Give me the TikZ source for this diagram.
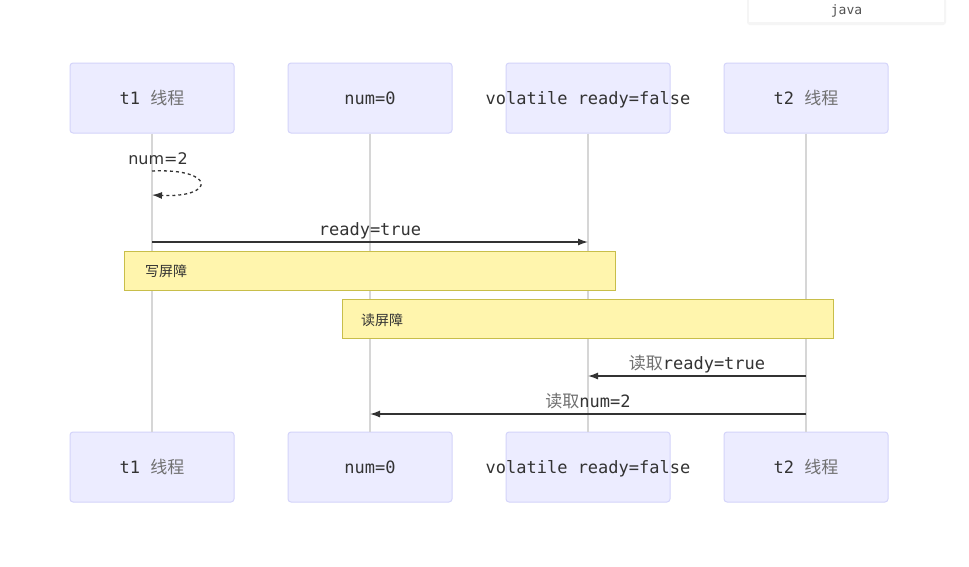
\documentclass[tikz,border=0pt]{standalone}
\usepackage{fontspec}
\setmainfont{DejaVu Sans}
\newfontfamily\monof{DejaVu Sans Mono}
\newfontfamily\cjk{Noto Sans CJK SC}
\usetikzlibrary{arrows.meta}
\definecolor{actfill}{HTML}{ECECFF}
\definecolor{actdraw}{HTML}{D4D4FA}
\definecolor{notefill}{HTML}{FFF5AD}
\definecolor{notedraw}{HTML}{C8BE4A}
\definecolor{lifec}{HTML}{D6D6D6}
\definecolor{txt}{HTML}{333333}
\definecolor{cjkc}{HTML}{707070}
\tikzset{
  actor/.style={draw=actdraw, fill=actfill, line width=1pt, rounded corners=3pt,
    minimum width=164pt, minimum height=70pt, inner sep=0pt},
  alabel/.style={font=\fontsize{17}{20}\selectfont\monof, text=txt, inner sep=0pt, anchor=base, yshift=-6pt},
  life/.style={draw=lifec, line width=1.2pt},
  msg/.style={draw=txt, line width=1.3pt, -{Latex[length=10pt,width=7pt]}},
  mlabel/.style={font=\fontsize{17}{20}\selectfont\monof, text=txt, inner sep=0pt, anchor=base},
  notebox/.style={draw=notedraw, fill=notefill, line width=1pt, minimum width=491pt, minimum height=39pt, inner sep=0pt},
  ntext/.style={font=\fontsize{14}{16}\selectfont\cjk, text=txt, anchor=west, inner sep=0pt},
}
\newcommand{\zh}[1]{{\cjk\color{cjkc}#1}}
\begin{document}
\begin{tikzpicture}[x=1pt,y=-1pt]
\useasboundingbox[fill=white] (0,0) rectangle (969,566);
% java tag
\fill[black!4, rounded corners=3pt] (747,-2) rectangle (946,25);
\node[fill=white, minimum width=195pt, minimum height=22pt, inner sep=0pt, font=\fontsize{13}{15}\selectfont\monof, text=txt!85] (java) at (846.5,10.5) {java};
% actors top
\node[actor] (t1) at (152,98) {};
\node[actor] (num) at (370,98) {};
\node[actor] (rdy) at (588,98) {};
\node[actor] (t2) at (806,98) {};
\node[alabel] (t1l) at (t1.center) {t1 \zh{线程}};
\node[alabel] (numl) at (num.center) {num=0};
\node[alabel] (rdyl) at (rdy.center) {volatile ready=false};
\node[alabel] (t2l) at (t2.center) {t2 \zh{线程}};
% actors bottom
\node[actor] (t1b) at (152,467) {};
\node[actor] (numb) at (370,467) {};
\node[actor] (rdyb) at (588,467) {};
\node[actor] (t2b) at (806,467) {};
\node[alabel] (t1bl) at (t1b.center) {t1 \zh{线程}};
\node[alabel] (numbl) at (numb.center) {num=0};
\node[alabel] (rdybl) at (rdyb.center) {volatile ready=false};
\node[alabel] (t2bl) at (t2b.center) {t2 \zh{线程}};
% lifelines
\draw[life] (t1.south) -- (t1b.north);
\draw[life] (num.south) -- (numb.north);
\draw[life] (rdy.south) -- (rdyb.north);
\draw[life] (t2.south) -- (t2b.north);
% self loop
\coordinate (s1) at (152,171);
\coordinate (s2) at (152,195);
\node[font=\fontsize{16}{18}\selectfont, text=txt, inner sep=0pt] (sl) at (158,159) {num=2};
\draw[draw=txt, line width=1.3pt, dash pattern=on 3pt off 3pt, -{Latex[length=10pt,width=7pt]}] (s1) .. controls (216,168) and (216,198) .. (s2);
% message ready=true
\coordinate (m1a) at (152,242);
\coordinate (m1b) at (588,242);
\draw[msg] (m1a) -- (m1b);
\node[mlabel] (l1) at (370,235) {ready=true};
% notes
\node[notebox] (n1) at (369.5,270.5) {};
\node[ntext] (n1t) at (145,271) {写屏障};
\node[notebox] (n2) at (587.5,318.5) {};
\node[ntext] (n2t) at (361,320) {读屏障};
% message 读取ready=true
\coordinate (m2a) at (806,376);
\coordinate (m2b) at (588,376);
\draw[msg] (m2a) -- (m2b);
\node[mlabel] (l2) at (697,369) {\zh{读取}ready=true};
% message 读取num=2
\coordinate (m3a) at (806,414);
\coordinate (m3b) at (370,414);
\draw[msg] (m3a) -- (m3b);
\node[mlabel] (l3) at (588,407) {\zh{读取}num=2};
\end{tikzpicture}
\end{document}
